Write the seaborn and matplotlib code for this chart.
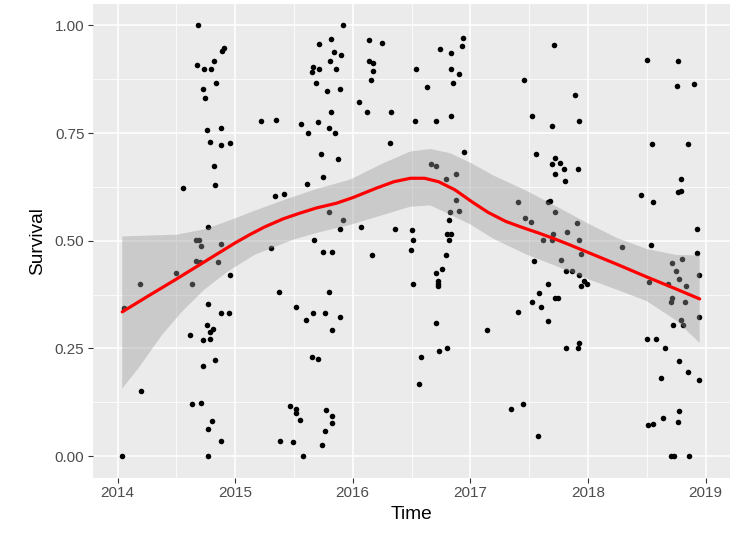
import numpy as np
import pandas as pd
import matplotlib
matplotlib.use("Agg")
import matplotlib.pyplot as plt
import seaborn as sns

time_2014 = [2014.687, 2014.906, 2014.889, 2014.821, 2014.673, 2014.736, 2014.795, 2014.838, 2014.724, 2014.744,
             2014.764, 2014.883, 2014.784, 2014.880, 2014.957, 2014.823, 2014.827, 2014.560, 2014.772, 2014.668,
             2014.690, 2014.880, 2014.713, 2014.665, 2014.704, 2014.857, 2014.495, 2014.957, 2014.191, 2014.636,
             2014.058, 2014.770, 2014.878, 2014.946, 2014.761, 2014.810, 2014.789, 2014.617, 2014.787, 2014.730,
             2014.832, 2014.724, 2014.202, 2014.631, 2014.707, 2014.801, 2014.770, 2014.883, 2014.036, 2014.770]
surv_2014 = [1.000, 0.947, 0.940, 0.918, 0.908, 0.899, 0.899, 0.867, 0.851, 0.832,
             0.757, 0.761, 0.729, 0.722, 0.727, 0.674, 0.629, 0.622, 0.533, 0.501,
             0.501, 0.492, 0.488, 0.454, 0.451, 0.451, 0.424, 0.421, 0.400, 0.400,
             0.343, 0.353, 0.333, 0.333, 0.305, 0.295, 0.288, 0.282, 0.272, 0.269,
             0.223, 0.209, 0.151, 0.120, 0.123, 0.081, 0.063, 0.036, 0.000, 0.000]

time_2015 = [2015.915, 2015.818, 2015.711, 2016.141, 2016.247, 2015.844, 2015.901, 2015.810, 2016.141, 2016.170,
             2015.665, 2015.711, 2015.654, 2015.855, 2016.173, 2016.158, 2015.685, 2015.784, 2015.892, 2016.054,
             2015.818, 2016.124, 2016.323, 2015.218, 2015.350, 2015.558, 2015.702, 2015.801, 2015.622, 2015.849,
             2016.315, 2015.728, 2015.878, 2015.747, 2015.611, 2015.337, 2015.418, 2015.798, 2015.920, 2015.895,
             2016.073, 2016.362, 2015.668, 2015.308, 2015.747, 2015.821, 2016.164, 2015.376, 2015.796, 2015.520,
             2015.665, 2015.764, 2015.892, 2015.605, 2015.824, 2015.656, 2015.707, 2015.469, 2015.518, 2015.518,
             2015.776, 2015.821, 2015.821, 2015.549, 2015.764, 2015.379, 2015.490, 2015.741, 2015.580]
surv_2015 = [1.000, 0.968, 0.956, 0.965, 0.960, 0.937, 0.932, 0.918, 0.917, 0.912,
             0.903, 0.899, 0.891, 0.899, 0.894, 0.874, 0.866, 0.847, 0.851, 0.822,
             0.799, 0.799, 0.799, 0.777, 0.781, 0.770, 0.775, 0.762, 0.750, 0.750,
             0.728, 0.702, 0.690, 0.648, 0.632, 0.605, 0.609, 0.566, 0.549, 0.528,
             0.532, 0.528, 0.501, 0.484, 0.475, 0.473, 0.468, 0.382, 0.382, 0.347,
             0.333, 0.333, 0.323, 0.315, 0.294, 0.231, 0.225, 0.116, 0.110, 0.100,
             0.108, 0.093, 0.078, 0.084, 0.058, 0.036, 0.032, 0.026, 0.000]

time_2016 = [2016.940, 2016.927, 2016.740, 2016.836, 2016.536, 2016.836, 2016.906, 2016.855, 2016.632, 2016.530,
             2016.706, 2016.838, 2016.949, 2016.666, 2016.706, 2016.881, 2016.796, 2016.876, 2016.827, 2016.906,
             2016.816, 2016.804, 2016.833, 2016.816, 2016.502, 2016.513, 2016.498, 2016.796, 2016.762, 2016.706,
             2016.723, 2016.723, 2016.723, 2016.510, 2016.706, 2017.139, 2016.734, 2016.802, 2016.583, 2016.561]
surv_2016 = [0.971, 0.951, 0.946, 0.936, 0.898, 0.899, 0.886, 0.866, 0.856, 0.777,
             0.777, 0.789, 0.707, 0.679, 0.674, 0.654, 0.644, 0.595, 0.566, 0.568,
             0.549, 0.516, 0.516, 0.501, 0.525, 0.501, 0.478, 0.467, 0.435, 0.424,
             0.406, 0.400, 0.394, 0.400, 0.308, 0.292, 0.244, 0.250, 0.230, 0.167]

time_2017 = [2017.714, 2017.457, 2017.522, 2017.697, 2017.556, 2017.720, 2017.695, 2017.760, 2017.799, 2017.720,
             2017.808, 2017.403, 2017.663, 2017.678, 2017.718, 2017.468, 2017.514, 2017.825, 2017.703, 2017.616,
             2017.695, 2017.542, 2017.774, 2017.816, 2017.661, 2017.582, 2017.723, 2017.743, 2017.522, 2017.599,
             2017.408, 2017.658, 2017.811, 2017.349, 2017.446, 2017.576, 2017.890, 2017.927, 2017.913, 2017.910,
             2017.924, 2017.944, 2017.865, 2017.924, 2017.967, 2017.995, 2017.941, 2017.913, 2017.927, 2018.290]
surv_2017 = [0.954, 0.874, 0.789, 0.766, 0.702, 0.693, 0.677, 0.681, 0.666, 0.655,
             0.639, 0.589, 0.589, 0.593, 0.567, 0.553, 0.544, 0.521, 0.516, 0.501,
             0.501, 0.454, 0.455, 0.429, 0.400, 0.379, 0.367, 0.366, 0.359, 0.346,
             0.334, 0.313, 0.250, 0.109, 0.121, 0.047, 0.838, 0.777, 0.666, 0.541,
             0.501, 0.470, 0.429, 0.420, 0.406, 0.400, 0.394, 0.250, 0.262, 0.485]

time_2018 = [2018.500, 2018.769, 2018.755, 2018.905, 2018.545, 2018.851, 2018.794, 2018.454, 2018.556, 2018.769,
             2018.789, 2018.928, 2018.537, 2018.928, 2018.715, 2018.798, 2018.749, 2018.945, 2018.772, 2018.520,
             2018.679, 2018.834, 2018.715, 2018.707, 2018.828, 2018.947, 2018.789, 2018.811, 2018.726, 2018.503,
             2018.577, 2018.658, 2018.772, 2018.849, 2018.619, 2018.945, 2018.775, 2018.766, 2018.636, 2018.509,
             2018.554, 2018.707, 2018.732, 2018.860]
surv_2018 = [0.919, 0.918, 0.860, 0.863, 0.724, 0.724, 0.644, 0.606, 0.590, 0.613,
             0.616, 0.528, 0.491, 0.471, 0.448, 0.457, 0.429, 0.420, 0.411, 0.405,
             0.400, 0.394, 0.367, 0.357, 0.357, 0.324, 0.315, 0.304, 0.305, 0.273,
             0.273, 0.250, 0.221, 0.195, 0.182, 0.178, 0.104, 0.080, 0.089, 0.072,
             0.075, 0.000, 0.000, 0.000]

# loess smooth line
fit_time = [2014.04, 2014.25, 2014.5, 2014.75, 2015.0, 2015.13, 2015.25, 2015.41, 2015.55, 2015.69, 2015.86,
            2016.0, 2016.2, 2016.35, 2016.49, 2016.61, 2016.73, 2016.87, 2017.01, 2017.15, 2017.3, 2017.44,
            2017.58, 2017.72, 2017.85, 2018.0, 2018.25, 2018.5, 2018.75, 2018.95]
fit_mid = [0.335, 0.370, 0.411, 0.453, 0.495, 0.515, 0.532, 0.551, 0.564, 0.576, 0.587,
           0.600, 0.622, 0.637, 0.645, 0.645, 0.637, 0.618, 0.591, 0.566, 0.545, 0.531,
           0.518, 0.504, 0.490, 0.473, 0.445, 0.416, 0.388, 0.365]

# upper and lower edge of the confidence band
hi_time = [2014.04, 2014.5, 2014.75, 2015.0, 2015.13, 2015.41, 2015.69, 2015.98, 2016.26, 2016.49, 2016.66,
           2016.83, 2017.0, 2017.2, 2017.47, 2017.75, 2018.0, 2018.25, 2018.5, 2018.75, 2018.95]
fit_hi = [0.510, 0.514, 0.527, 0.552, 0.566, 0.594, 0.620, 0.642, 0.680, 0.707, 0.713,
          0.703, 0.681, 0.651, 0.617, 0.577, 0.540, 0.506, 0.481, 0.467, 0.466]
lo_time = [2014.04, 2014.18, 2014.38, 2014.55, 2014.74, 2014.94, 2015.17, 2015.5, 2015.69, 2015.98, 2016.26,
           2016.49, 2016.66, 2016.81, 2017.0, 2017.2, 2017.47, 2017.75, 2018.0, 2018.25, 2018.5, 2018.75, 2018.95]
fit_lo = [0.157, 0.205, 0.282, 0.336, 0.387, 0.429, 0.468, 0.503, 0.518, 0.537, 0.560,
          0.579, 0.582, 0.563, 0.538, 0.504, 0.469, 0.439, 0.411, 0.386, 0.360, 0.315, 0.263]

year_ticks = [2014, 2015, 2016, 2017, 2018, 2019]
surv_ticks = [0.0, 0.25, 0.5, 0.75, 1.0]

df = pd.DataFrame({
    "Time": time_2014 + time_2015 + time_2016 + time_2017 + time_2018,
    "Survival": surv_2014 + surv_2015 + surv_2016 + surv_2017 + surv_2018,
})
fit = pd.DataFrame({"Time": fit_time, "mid": fit_mid})

sns.set_theme(style="darkgrid", rc={
    "axes.facecolor": "#EBEBEB",
    "grid.color": "white",
    "figure.facecolor": "white",
})
plt.rcParams["font.family"] = ["Liberation Sans", "DejaVu Sans"]

fig = plt.figure(figsize=(7.43, 5.35), dpi=100)
ax = fig.add_axes([0.1248, 0.107, 0.8577, 0.886])

sns.scatterplot(data=df, x="Time", y="Survival", color="black", s=16, linewidth=0, ax=ax, zorder=3)

# band polygon: upper edge left->right, lower edge right->left
band_x = np.concatenate([hi_time, lo_time[::-1]])
band_y = np.concatenate([fit_hi, fit_lo[::-1]])
ax.fill(band_x, band_y, color="#999999", alpha=0.4, linewidth=0, zorder=4)
sns.lineplot(data=fit, x="Time", y="mid", color="red", linewidth=2.3, ax=ax, zorder=5)

ax.set_xlim(2013.789, 2019.208)
ax.set_ylim(-0.05, 1.05)
ax.set_xticks(year_ticks)
ax.set_xticklabels([str(y) for y in year_ticks])
ax.set_yticks(surv_ticks)
ax.set_yticklabels([f"{v:.2f}" for v in surv_ticks])
ax.set_xticks([y + 0.5 for y in year_ticks[:-1]], minor=True)
ax.set_yticks([0.125, 0.375, 0.625, 0.875], minor=True)
ax.grid(which="major", color="white", linewidth=1.1)
ax.grid(which="minor", color="white", linewidth=0.55)
ax.set_axisbelow(True)

ax.tick_params(which="major", length=3.5, width=0.8, color="#333333", labelcolor="#4D4D4D",
               labelsize=11, pad=2.5, bottom=True, left=True)
ax.tick_params(which="minor", length=0)
for s in ax.spines.values():
    s.set_visible(False)

ax.set_xlabel("Time", fontsize=13.75, color="black", labelpad=4)
ax.set_ylabel("Survival", fontsize=13.75, color="black", labelpad=6)

fig.savefig("out.png", dpi=100)
